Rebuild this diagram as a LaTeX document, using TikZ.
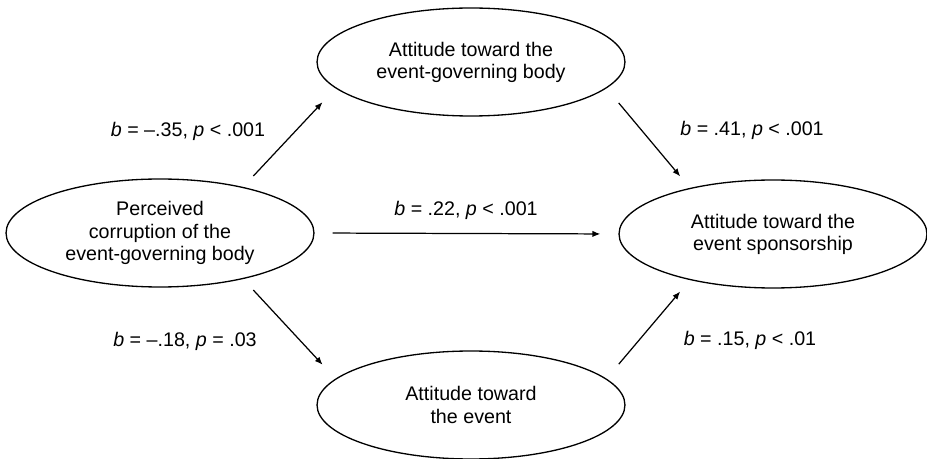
\documentclass[tikz,border=0pt]{standalone}
\usepackage{fontspec}
\setmainfont{Liberation Sans}
\usetikzlibrary{shapes.geometric,arrows.meta}
\begin{document}
\begin{tikzpicture}[x=0.02cm,y=-0.02cm,
				every node/.style={font=\fontsize{11.2}{12.6}\selectfont,align=center},
				latent/.style={draw,ellipse,line width=0.75pt,minimum width=6.16cm,minimum height=2.16cm,inner sep=0pt},
				effect/.style={line width=0.7pt,-{Latex[length=4.5pt,width=3.6pt]}}]
\useasboundingbox (0,0) rectangle (927,459);
\node[latent] (corr) at (160,233) {Perceived\\corruption of the\\event-governing body};
\node[latent] (body) at (471,62) {Attitude toward the\\event-governing body};
\node[latent] (spon) at (773,234) {Attitude toward the\\event sponsorship};
\node[latent] (event) at (471,405) {Attitude toward\\the event};
\draw[effect,shorten <=0.3cm,shorten >=0.38cm] (corr.29) -- (body.191);
\draw[effect,shorten <=0.38cm,shorten >=0.3cm] (body.349) -- (spon.151);
\draw[effect,shorten <=0.36cm,shorten >=0.36cm] (corr.east) -- (spon.west);
\draw[effect,shorten <=0.3cm,shorten >=0.38cm] (corr.331) -- (event.169);
\draw[effect,shorten <=0.38cm,shorten >=0.3cm] (event.11) -- (spon.209);
\node (bcb) at (188,131) {\textit{b} = –.35, \textit{p} < .001};
\node (bbs) at (752,130) {\textit{b} = .41, \textit{p} < .001};
\node (bcs) at (466,210) {\textit{b} = .22, \textit{p} < .001};
\node (bce) at (185,341) {\textit{b} = –.18, \textit{p} = .03};
\node (bes) at (750,340) {\textit{b} = .15, \textit{p} < .01};
\end{tikzpicture}
\end{document}
